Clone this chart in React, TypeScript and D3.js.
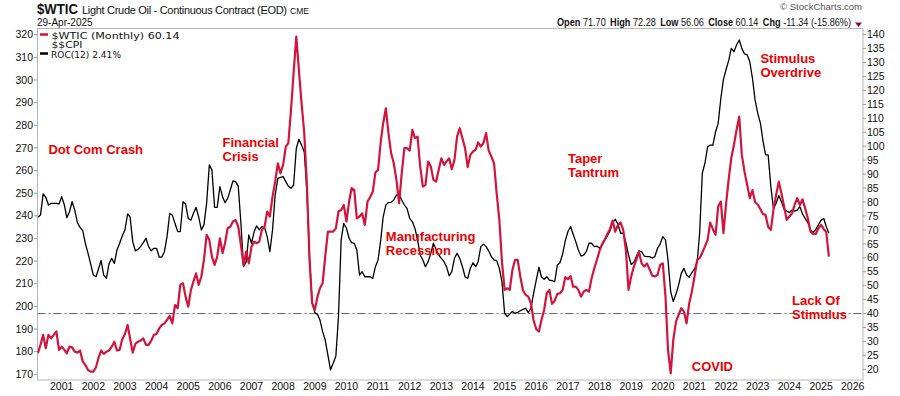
import React from "react";
import * as d3 from "d3";

// monthly closes, first point is April 2000
const firstMonth = new Date(2000, 3, 1);

// $WTIC:$$CPI (left scale)
const crudeCpi = [
	179.3, 183.0, 187.4, 181.5, 187.4, 185.9, 187.4, 188.9, 180.8, 182.2,
	180.8, 179.3, 182.2, 181.9, 180.0, 179.6, 180.5, 175.6, 174.1, 171.9,
	171.2, 171.2, 173.1, 177.1, 180.5, 179.0, 180.0, 180.5, 182.2, 184.4,
	180.5, 180.8, 185.5, 187.8, 191.8, 185.9, 179.6, 183.4, 184.4, 184.9,
	185.9, 183.0, 183.0, 184.9, 187.4, 187.8, 190.3, 191.8, 192.5, 194.0,
	195.8, 192.5, 200.6, 199.2, 209.5, 210.2, 204.3, 199.9, 207.3, 210.9,
	214.6, 209.5, 213.2, 220.5, 231.6, 229.4, 222.0, 218.3, 222.0, 230.1,
	223.5, 227.9, 234.5, 235.2, 237.5, 238.2, 235.2, 227.1, 218.3, 224.2,
	219.0, 226.4, 228.6, 227.9, 228.6, 233.8, 235.2, 241.9, 239.7, 248.5,
	255.1, 263.2, 258.8, 262.5, 270.6, 272.1, 286.8, 303.0, 319.2, 304.5,
	289.7, 276.5, 254.4, 220.5, 201.4, 198.4, 204.3, 208.0, 210.2, 222.0,
	233.0, 233.0, 233.0, 234.5, 241.9, 242.6, 244.8, 237.5, 246.3, 252.2,
	251.4, 238.9, 239.7, 241.1, 236.0, 246.3, 248.2, 250.7, 259.1, 260.3,
	272.8, 280.9, 287.5, 276.5, 267.6, 263.2, 255.9, 245.6, 258.8, 269.9,
	269.9, 268.8, 278.0, 274.3, 275.0, 261.8, 252.9, 253.7, 264.0, 261.8,
	255.9, 255.1, 260.3, 265.4, 262.5, 264.0, 265.4, 260.6, 264.7, 275.0,
	278.7, 274.3, 269.9, 261.5, 266.9, 268.4, 269.2, 272.4, 270.6, 272.1,
	276.5, 268.8, 266.2, 263.2, 250.0, 238.2, 219.8, 207.3, 208.0, 207.3,
	216.1, 220.5, 220.5, 213.2, 207.0, 205.1, 204.3, 201.4, 194.0, 189.9,
	188.9, 194.0, 198.4, 205.8, 207.3, 201.1, 202.5, 205.5, 205.8, 207.3,
	212.9, 212.0, 213.4, 208.7, 208.7, 207.3, 204.3, 206.5, 207.3, 206.5,
	212.4, 216.8, 220.5, 224.6, 227.6, 229.4, 232.0, 234.1, 237.9, 233.0,
	236.0, 237.0, 233.8, 224.9, 207.3, 213.2, 217.6, 220.5, 224.2, 219.0,
	217.6, 219.0, 216.4, 213.6, 213.2, 213.9, 218.3, 219.0, 204.3, 180.8,
	170.4, 185.2, 193.3, 196.2, 199.2, 197.7, 192.5, 201.4, 206.5, 213.2,
	220.5, 221.3, 223.8, 226.4, 229.4, 237.0, 234.1, 231.6, 244.1, 246.3,
	232.3, 245.6, 256.6, 265.4, 271.3, 277.9, 283.8, 266.9, 259.5, 253.7,
	247.8, 251.4, 246.0, 245.0, 242.9, 240.8, 240.4, 235.2, 233.8, 242.6,
	249.2, 255.1, 250.0, 244.1, 238.2, 239.7, 241.1, 244.8, 247.8, 244.8,
	247.3, 243.3, 238.9, 233.0, 232.0, 232.0, 234.5, 236.0, 234.1, 233.0,
	222.0,
];

// ROC(12) of $$CPI (right scale)
const cpiRoc = [
	74.5, 75.3, 82.9, 81.7, 78.9, 79.5, 79.5, 79.5, 79.3, 81.9,
	78.9, 74.4, 76.5, 80.1, 77.1, 72.6, 70.9, 69.7, 65.2, 61.6,
	57.8, 53.8, 53.2, 55.9, 59.0, 53.8, 52.6, 57.8, 59.8, 58.0,
	62.8, 65.2, 67.8, 70.0, 75.7, 74.7, 65.8, 62.5, 63.0, 64.0,
	65.4, 67.0, 64.0, 62.5, 63.4, 63.4, 60.2, 60.2, 62.2, 67.6,
	75.9, 75.3, 72.3, 69.4, 69.4, 80.1, 79.3, 74.1, 73.5, 75.9,
	78.1, 74.7, 70.0, 71.8, 79.5, 93.3, 91.5, 78.1, 78.1, 85.5,
	81.9, 79.8, 81.3, 84.3, 87.6, 87.3, 85.7, 72.3, 56.8, 58.6,
	68.2, 65.2, 69.4, 71.4, 70.0, 71.2, 70.9, 67.6, 62.2, 70.0,
	82.5, 88.5, 88.8, 89.1, 87.3, 85.7, 84.9, 86.1, 99.2, 102.5,
	100.4, 98.0, 84.0, 60.0, 44.0, 40.3, 39.7, 37.7, 33.5, 30.5,
	25.1, 19.8, 22.2, 24.8, 38.9, 66.4, 72.3, 70.6, 67.0, 65.4,
	65.2, 62.8, 53.8, 55.0, 53.2, 53.2, 53.2, 52.6, 56.8, 59.2,
	66.4, 74.7, 78.9, 79.8, 79.9, 80.7, 82.5, 82.9, 80.7, 78.9,
	77.7, 74.1, 72.9, 70.6, 66.4, 61.0, 59.2, 56.8, 58.6, 61.6,
	65.2, 63.0, 61.0, 59.8, 58.6, 56.8, 53.5, 55.0, 59.8, 61.6,
	59.8, 56.8, 53.2, 52.6, 56.2, 58.2, 56.8, 58.6, 64.0, 64.9,
	64.0, 62.5, 60.4, 59.2, 59.0, 56.2, 51.4, 40.1, 38.9, 39.8,
	40.7, 40.1, 40.4, 41.0, 41.5, 41.9, 40.3, 41.9, 47.2, 52.0,
	56.6, 53.2, 52.3, 53.2, 52.0, 51.8, 51.4, 57.4, 58.2, 61.4,
	66.1, 69.4, 71.2, 68.5, 65.8, 62.8, 60.6, 61.0, 62.2, 65.2,
	65.2, 64.0, 64.2, 63.4, 64.6, 66.4, 67.8, 69.6, 72.6, 73.8,
	72.0, 68.8, 68.8, 65.4, 61.0, 57.6, 58.4, 60.4, 62.5, 62.2,
	60.6, 60.4, 60.4, 59.9, 60.4, 63.4, 64.9, 67.6, 66.4, 59.2,
	47.8, 44.3, 47.0, 50.2, 54.4, 56.2, 53.8, 53.0, 54.7, 56.0,
	58.6, 68.8, 90.3, 93.9, 99.8, 100.4, 100.4, 105.2, 108.2, 117.2,
	124.0, 127.6, 130.9, 135.1, 133.9, 136.3, 138.1, 135.1, 133.1, 132.8,
	130.3, 124.3, 116.6, 111.8, 108.2, 102.2, 96.9, 96.9, 85.5, 77.7,
	79.5, 82.3, 80.1, 77.4, 76.8, 76.2, 77.1, 76.7, 77.1, 78.3,
	75.7, 74.1, 72.6, 70.0, 69.0, 70.2, 71.8, 73.5, 74.1, 71.2,
	68.8,
];

const leftTicks = d3.range(170, 321, 10);
const rightTicks = d3.range(20, 141, 5);
const yearTicks = d3.range(2001, 2027);
const refLevel = 40; // dash-dot line, right scale

const notes = [
	{lines: ["Dot Com Crash"], month: "2000-08", level: 267.3},
	{lines: ["Financial", "Crisis"], month: "2006-02", level: 270.5},
	{lines: ["Manufacturing", "Recession"], month: "2011-04", level: 229},
	{lines: ["Taper", "Tantrum"], month: "2017-01", level: 263.5},
	{lines: ["Stimulus", "Overdrive"], month: "2023-02", level: 307.4},
	{lines: ["Lack Of", "Stimulus"], month: "2024-02", level: 200.5},
	{lines: ["COVID"], month: "2020-12", level: 171.6},
];

const quote = [
	["Open", "71.70"],
	["High", "72.28"],
	["Low", "56.06"],
	["Close", "60.14"],
	["Chg", "-11.34 (-15.86%)"],
];

const W = 900;
const H = 396;
const plot = {left: 37.5, right: 863, top: 28.5, bottom: 380};
const sans = "'Liberation Sans', Arial, sans-serif";
const legendFont = "'DejaVu Sans', sans-serif";
const RED = "#d3143c";

const App: React.FC = () => {
	const x = d3
		.scaleTime()
		.domain([new Date(2001, 0, 1), new Date(2026, 0, 1)])
		.range([61.7, 852.7]);
	const yLeft = d3.scaleLinear().domain([170, 320]).range([374.3, 34.7]);
	const yRight = d3.scaleLinear().domain([20, 140]).range([369.3, 34.7]);
	const parseMonth = d3.timeParse("%Y-%m");

	const monthX = (_: number, i: number) => x(d3.timeMonth.offset(firstMonth, i));
	const redLine = d3.line<number>().x(monthX).y((v) => yLeft(v));
	const blackLine = d3.line<number>().x(monthX).y((v) => yRight(v));

	return (
		<svg
			width={W}
			height={H}
			style={{position: "absolute", left: 0, top: 0, background: "#fff"}}
			fontFamily={sans}
		>
			<defs>
				<clipPath id="plotClip">
					<rect x={plot.left} y={plot.top} width={plot.right - plot.left} height={plot.bottom - plot.top} />
				</clipPath>
			</defs>

			{/* header */}
			<text x={37} y={14} fontSize={14} fontWeight="bold" fill="#111" textLength={41} lengthAdjust="spacingAndGlyphs">
				$WTIC
			</text>
			<text x={82} y={14} fontSize={11} fill="#111" textLength={205}>
				Light Crude Oil - Continuous Contract (EOD)
			</text>
			<text x={290} y={14} fontSize={8.5} fill="#111">CME</text>
			<text x={37} y={26} fontSize={10} fill="#111">29-Apr-2025</text>
			<text x={862} y={10} fontSize={9.5} fill="#555" textAnchor="end">© StockCharts.com</text>
			<text x={557} y={26} fontSize={10.5} fill="#111" textLength={294} lengthAdjust="spacingAndGlyphs">
				{quote.map(([k, v], i) => (
					<tspan key={k}>
						<tspan fontWeight="bold" dx={i === 0 ? 0 : 5}>{k}</tspan>
						<tspan> {v}</tspan>
					</tspan>
				))}
			</text>
			<path d="M855,22.5 L862,22.5 L858.5,27 Z" fill="#8b1030" />

			{/* frame */}
			<rect
				x={plot.left}
				y={plot.top}
				width={plot.right - plot.left}
				height={plot.bottom - plot.top}
				fill="none"
				stroke="#b8b8b8"
			/>

			{/* left axis */}
			{leftTicks.map((t) => (
				<g key={`l${t}`}>
					<line x1={34} x2={plot.left} y1={yLeft(t)} y2={yLeft(t)} stroke="#999" />
					<text x={33} y={yLeft(t)} dy="0.35em" fontSize={10.5} textAnchor="end" fill="#111">{t}</text>
				</g>
			))}

			{/* right axis */}
			{rightTicks.map((t) => (
				<g key={`r${t}`}>
					<line x1={plot.right} x2={866} y1={yRight(t)} y2={yRight(t)} stroke="#999" />
					<text x={867} y={yRight(t)} dy="0.35em" fontSize={10.5} fill="#111">{t}</text>
				</g>
			))}

			{/* years */}
			{yearTicks.map((yr) => (
				<text key={yr} x={x(new Date(yr, 0, 1))} y={390} fontSize={10.5} textAnchor="middle" fill="#111">
					{yr}
				</text>
			))}

			<g clipPath="url(#plotClip)">
				<line
					x1={plot.left}
					x2={plot.right}
					y1={yRight(refLevel)}
					y2={yRight(refLevel)}
					stroke="#666"
					strokeDasharray="8,3,2,3"
				/>
				<path d={blackLine(cpiRoc) || ""} fill="none" stroke="#000" strokeWidth={1.3} strokeLinejoin="round" />
				<path d={redLine(crudeCpi) || ""} fill="none" stroke={RED} strokeWidth={2.2} strokeLinejoin="round" />
			</g>

			{/* legend */}
			<line x1={40} x2={48} y1={34.5} y2={34.5} stroke={RED} strokeWidth={2.5} />
			<text x={51.5} y={38.5} fontSize={8.8} fontFamily={legendFont} fill="#111" textLength={128} lengthAdjust="spacingAndGlyphs">
				$WTIC (Monthly) 60.14
			</text>
			<text x={51.5} y={47.5} fontSize={8.8} fontFamily={legendFont} fill="#111" textLength={31} lengthAdjust="spacingAndGlyphs">
				$$CPI
			</text>
			<line x1={40} x2={48} y1={53.5} y2={53.5} stroke="#000" strokeWidth={2.5} />
			<text x={51} y={57.5} fontSize={8.8} fontFamily={legendFont} fill="#111" textLength={70} lengthAdjust="spacingAndGlyphs">
				ROC(12) 2.41%
			</text>

			{/* annotations */}
			{notes.map((n) => {
				const nx = x(parseMonth(n.month) as Date);
				const ny = yLeft(n.level);
				return (
					<text key={n.lines[0] + n.month} x={nx} y={ny} fontSize={13} fontWeight="bold" fill="#ee0000">
						{n.lines.map((l, i) => (
							<tspan key={l} x={nx} dy={i === 0 ? 0 : 14}>{l}</tspan>
						))}
					</text>
				);
			})}
		</svg>
	);
};

export default App;
